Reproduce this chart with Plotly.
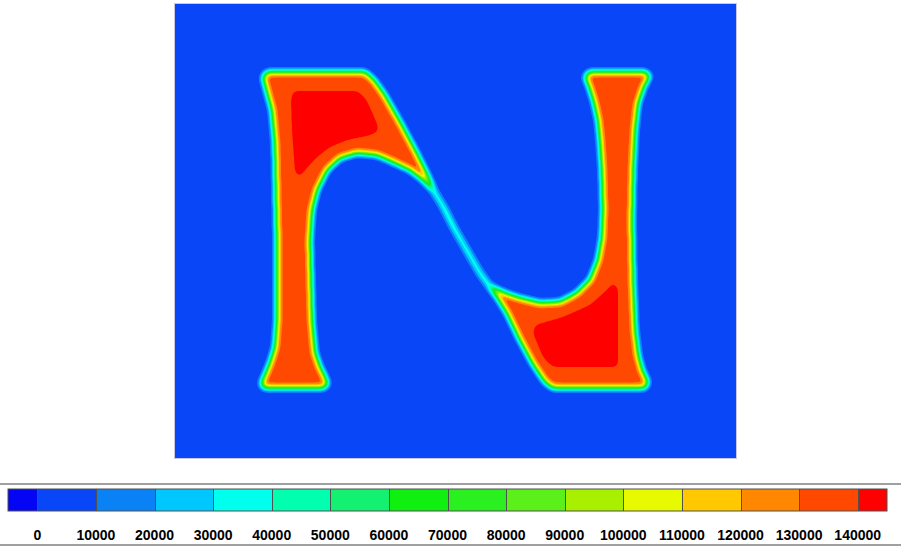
import numpy as np
import plotly.graph_objects as go

# ---------------- data (screen-pixel coordinates) ----------------
# outline of the letter "N" (mid-level contour), traced clockwise
n_outline_x = [263, 267, 365, 374, 384, 400, 416, 427, 434.0, 444.0, 454.0, 467.4, 480.7, 490.7,
               505, 520, 540, 560, 577, 590, 598, 602, 603, 602, 600, 598, 594, 589, 585, 589,
               646, 650, 644, 638, 635, 633, 632, 633, 635, 638, 642, 648, 645, 553, 545, 533,
               520, 507, 497, 489.3, 479.3, 466.0, 452.6, 442.6, 432.6, 423, 410, 393, 377, 357,
               340, 327, 317, 312, 310, 311, 312, 315, 320, 325, 328, 324, 264, 261, 265, 270,
               275, 277, 277, 276, 275, 272, 266]
n_outline_y = [77, 72, 72, 80, 94, 122, 152, 174, 189.5, 206.2, 226.2, 249.5, 272.5, 286.2,
               293, 298, 303, 302, 293, 280, 260, 237, 210, 170, 140, 120, 102, 86, 77, 72,
               72, 76, 86, 103, 130, 170, 220, 280, 330, 355, 370, 382, 388, 388, 382, 364,
               340, 313, 297, 287.2, 273.5, 250.5, 227.2, 207.2, 190.5, 180, 170, 162, 155, 153,
               158, 170, 190, 210, 240, 280, 320, 353, 367, 377, 384, 388, 388, 384, 375, 363,
               347, 320, 240, 193, 143, 110, 88]

# red cores (> 140000)
core_tl_x = [293, 358, 366, 372, 378, 378, 367, 347, 330, 317, 305, 299, 295, 292, 291]
core_tl_y = [91, 91, 99, 112, 126, 132, 136, 140, 147, 157, 170, 178, 172, 130, 100]
core_br_x = [613, 618, 618, 553, 543, 533, 535, 563, 590, 608]
core_br_y = [282, 288, 367, 367, 357, 333, 325, 317, 305, 289]

# field levels
background_value = 3000
letter_value = 132000
core_value = 10000
blur_sigma = 3.1

# contour levels and colours
level_start = 0
level_end = 140000
level_size = 10000
bin_colors = ["#0505F5", "#0846F8", "#0A82F5", "#00C8FF", "#00FFEC", "#00FFAE",
              "#14F070", "#10F010", "#2AF020", "#5CF01A", "#A8F000", "#E8FA00",
              "#FFC800", "#FF8800", "#FF4800", "#FF0000"]
tick_values = list(range(0, 140001, 10000))
tick_labels = [str(v) for v in tick_values]

# plot area in pixels
x_min, x_max = 175, 736
y_min, y_max = 4, 458


# ---------------- build the field ----------------
def inside(px, py, vx, vy):
    vx = np.asarray(vx, float)
    vy = np.asarray(vy, float)
    res = np.zeros(px.shape, bool)
    n = len(vx)
    j = n - 1
    for i in range(n):
        xi, yi, xj, yj = vx[i], vy[i], vx[j], vy[j]
        cond = (yi > py) != (yj > py)
        with np.errstate(divide="ignore", invalid="ignore"):
            xint = (xj - xi) * (py - yi) / (yj - yi) + xi
        res ^= cond & (px < xint)
        j = i
    return res


def gblur(a, s):
    r = int(4 * s) + 1
    t = np.arange(-r, r + 1)
    k = np.exp(-0.5 * (t / s) ** 2)
    k /= k.sum()
    p = np.pad(a, r, mode="constant")
    out = np.apply_along_axis(lambda m: np.convolve(m, k, mode="valid"), 1, p)
    out = np.apply_along_axis(lambda m: np.convolve(m, k, mode="valid"), 0, out)
    return out


xs = np.arange(x_min, x_max + 1, 1.0)
ys = np.arange(y_min, y_max + 1, 1.0)
ss = 2
xsub = (np.arange(len(xs) * ss) + 0.5) / ss - 0.5 + x_min
ysub = (np.arange(len(ys) * ss) + 0.5) / ss - 0.5 + y_min
PX, PY = np.meshgrid(xsub, ysub)


def mask_of(vx, vy):
    m = inside(PX, PY, vx, vy).astype(float)
    return m.reshape(len(ys), ss, len(xs), ss).mean(axis=(1, 3))


mask_n = mask_of(n_outline_x, n_outline_y)
mask_c = np.maximum(mask_of(core_tl_x, core_tl_y), mask_of(core_br_x, core_br_y))
z = background_value + letter_value * gblur(mask_n, blur_sigma) + core_value * gblur(mask_c, blur_sigma)
z = np.round(z, 0)

colorscale = [[k / (len(bin_colors) - 1), c] for k, c in enumerate(bin_colors)]
contours = dict(start=level_start, end=level_end, size=level_size, coloring="fill")

fig = go.Figure()
fig.add_trace(go.Contour(
    x=xs, y=ys, z=z, autocontour=False,
    contours=dict(**contours, showlines=False),
    colorscale=colorscale, showscale=False, line=dict(width=0), hoverinfo="skip"))

# off-screen companion trace that only supplies the colour bar (with level lines)
fig.add_trace(go.Contour(
    x=[-200, -199], y=[-200, -199], z=[[0, 140000], [70000, 145000]], autocontour=False,
    contours=dict(**contours, showlines=True),
    line=dict(color="#505050", width=1),
    colorscale=colorscale, showscale=True, hoverinfo="skip",
    colorbar=dict(
        orientation="h",
        x=((8 + 887) / 2 - x_min) / (x_max - x_min), xanchor="center",
        y=(y_max - 489) / (y_max - y_min), yanchor="top",
        len=879, lenmode="pixels", thickness=22, thicknessmode="pixels",
        xpad=0, ypad=0, outlinecolor="#505050", outlinewidth=1,
        tickvals=tick_values, ticktext=tick_labels,
        ticks="outside", ticklen=12, tickcolor="rgba(0,0,0,0)",
        tickfont=dict(family="Arial, Liberation Sans, sans-serif", size=14, color="black", weight="bold"),
    )))

W = x_max - x_min
H = y_max - y_min
for py in (484, 545):
    fig.add_shape(type="line", xref="paper", yref="paper",
                  x0=(0 - x_min) / W, x1=(901 - x_min) / W,
                  y0=(y_max - py) / H, y1=(y_max - py) / H,
                  line=dict(color="#a0a0a0", width=2))

fig.update_xaxes(range=[x_min, x_max], showgrid=False, zeroline=False, showticklabels=False,
                 ticks="", showline=True, mirror=True, linecolor="#c8c8e0", linewidth=1)
fig.update_yaxes(range=[y_max, y_min], showgrid=False, zeroline=False, showticklabels=False,
                 ticks="", showline=True, mirror=True, linecolor="#c8c8e0", linewidth=1)
fig.update_layout(width=901, height=547,
                  margin=dict(l=x_min, r=901 - x_max, t=y_min, b=547 - y_max, autoexpand=False),
                  paper_bgcolor="white", plot_bgcolor="white", showlegend=False)
fig.write_html("out.html", config={"displayModeBar": False},
               post_script="document.body.style.margin='0';document.body.style.overflow='hidden';")
